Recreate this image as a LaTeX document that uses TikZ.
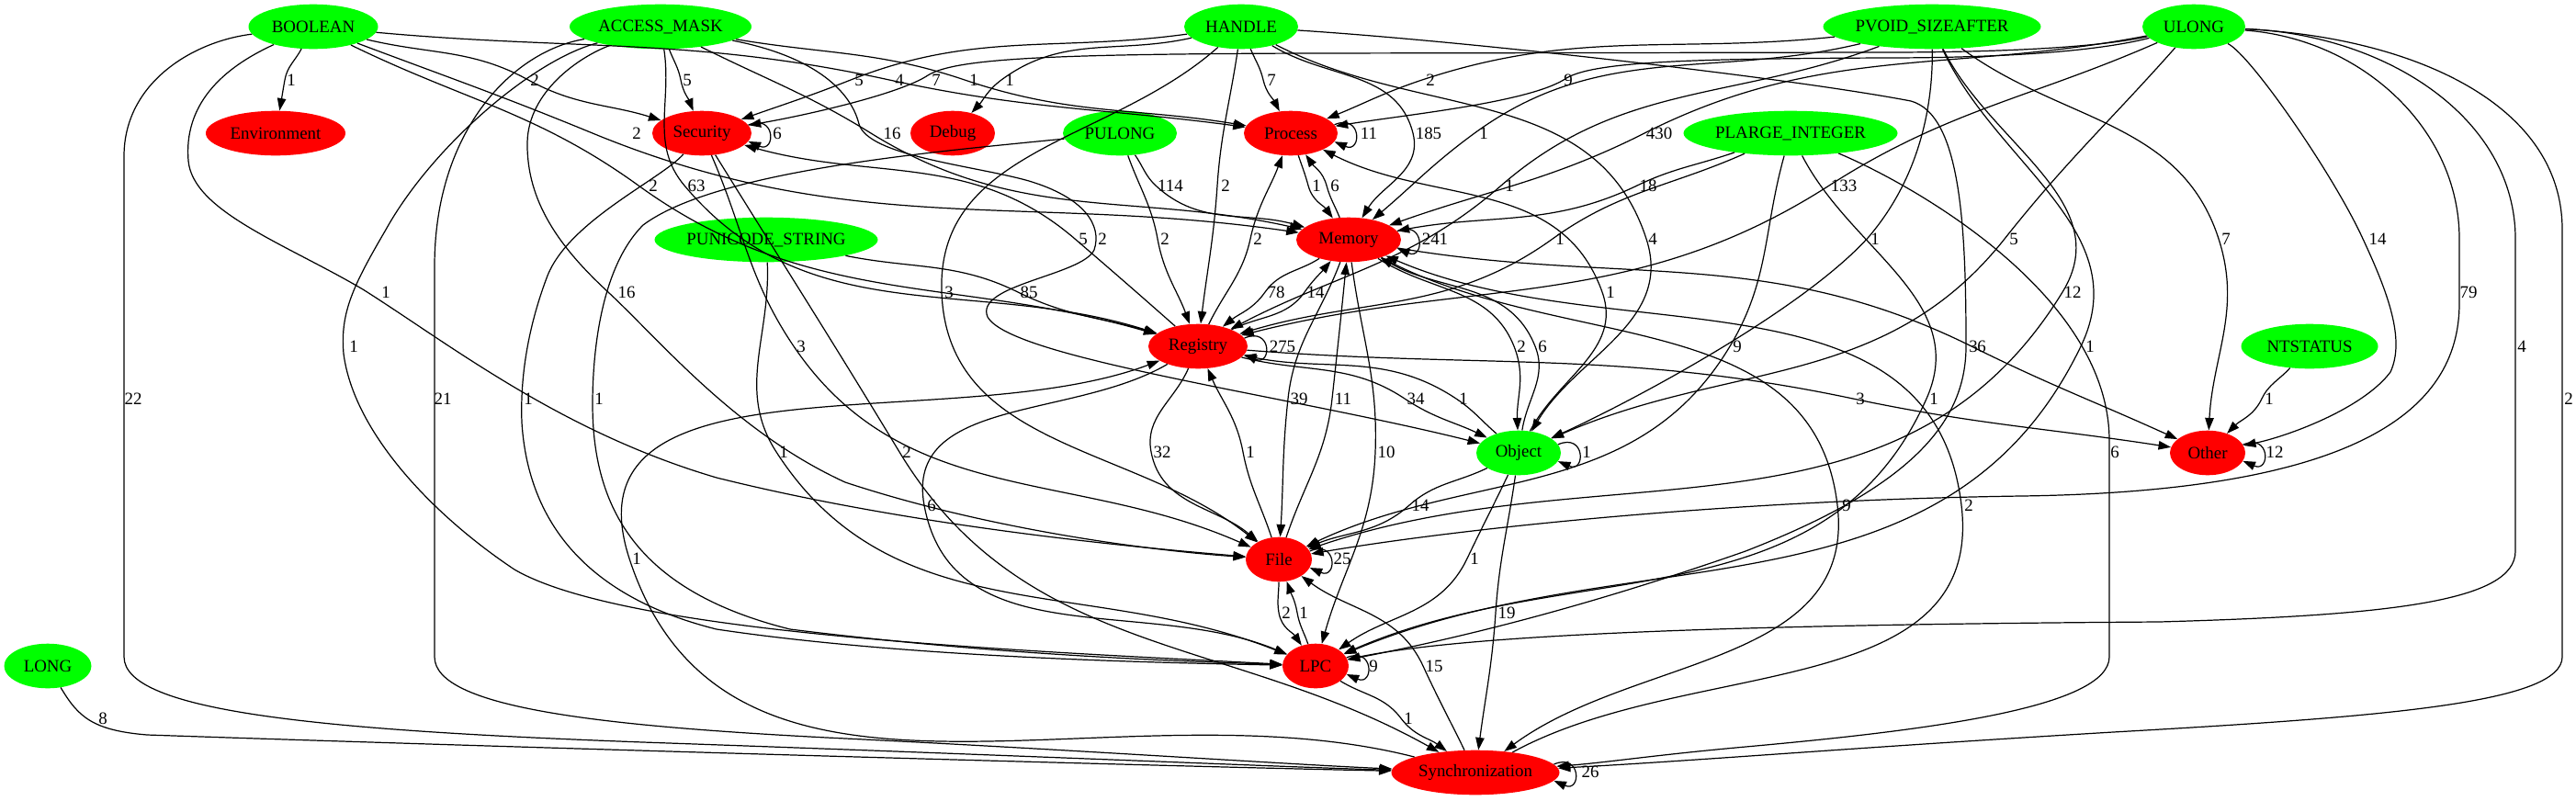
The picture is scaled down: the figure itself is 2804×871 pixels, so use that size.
\documentclass[tikz,border=0pt]{standalone}
\usepackage{fontspec}
\setmainfont{Liberation Serif}
\usetikzlibrary{shapes.geometric,arrows.meta,calc}
\definecolor{gg}{RGB}{0,255,0}
\definecolor{rr}{RGB}{255,0,0}
\newcommand\nl[1]{\makebox[0pt]{#1}}
\tikzset{
 nd/.style={ellipse, inner sep=0pt, minimum height=36pt, font=\fontsize{14}{16}\selectfont},
 gn/.style={nd, fill=gg, minimum width=#1*0.7407pt},
 rn/.style={nd, fill=rr, minimum width=#1*0.7407pt},
 edge/.style={draw=black, line width=0.9pt, -{Triangle[length=10pt,width=7pt]}},
 lab/.style={font=\fontsize{14}{16}\selectfont, inner sep=0pt},
}
% src, tgt, waypoint x, waypoint y
\newcommand\gedge[4]{%
 \draw[edge] let \p1=($(#3,#4)-(#1)$), \p2=($(#3,#4)-(#2)$), \p3=($(#2)-(#1)$),
   \n1={scalar(atan2(\y1,\x1))}, \n2={scalar(atan2(\y2,\x2))},
   \n3={scalar(atan2(2*\y3,\x3))}, \n4={scalar(atan2(2*\y3,\x3)+180)}
   in (#1) to[out=\n1,in=\n4] (#3,#4) to[out=\n3,in=\n2] (#2);}
% node, border angle
\newcommand\gloop[2]{\draw[edge] (#1.#2) .. controls +(30,-13) and +(30,13) .. (#1.-#2);}
\newcommand\glab[3]{\node[lab] (t#1x#2) at (#1,#2) {#3};}
\begin{document}
\begin{tikzpicture}[x=0.7407pt,y=-0.7407pt]
\useasboundingbox (0,0) rectangle (2804,871);
% nodes
\node[gn=141] (B) at (341,29) {\nl{BOOLEAN}};
\node[gn=198] (AM) at (719,29) {\nl{ACCESS\_MASK}};
\node[gn=124] (H) at (1351,29) {\nl{HANDLE}};
\node[gn=237] (PV) at (2103,29) {\nl{PVOID\_SIZEAFTER}};
\node[gn=112] (U) at (2388,29) {\nl{ULONG}};
\node[rn=152] (Env) at (300,145) {\nl{Environment}};
\node[rn=108] (Sec) at (764,145) {\nl{Security}};
\node[rn=92] (Dbg) at (1037,145) {\nl{Debug}};
\node[gn=124] (PU) at (1219,145) {\nl{PULONG}};
\node[rn=102] (Proc) at (1405,145) {\nl{Process}};
\node[gn=233] (PL) at (1949,145) {\nl{PLARGE\_INTEGER}};
\node[gn=243] (PS) at (834,261) {\nl{PUNICODE\_STRING}};
\node[rn=114] (Mem) at (1468,261) {\nl{Memory}};
\node[rn=108] (Reg) at (1304,377) {\nl{Registry}};
\node[gn=149] (NT) at (2514,377) {\nl{NTSTATUS}};
\node[gn=92] (Obj) at (1653,493) {\nl{Object}};
\node[rn=82] (Oth) at (2403,493) {\nl{Other}};
\node[rn=72] (F) at (1392,609) {\nl{File}};
\node[gn=95] (L) at (52,725) {\nl{LONG}};
\node[rn=72] (LPC) at (1432,725) {\nl{LPC}};
\node[rn=183] (Syn) at (1606,841) {\nl{Synchronization}};
% row 87
\gedge{B}{Env}{310}{87}
\gedge{B}{Sec}{575}{87}
\gedge{AM}{Sec}{741}{87}
\gedge{H}{Sec}{926}{87}
\gedge{B}{Proc}{968}{87}
\draw[edge] (U) .. controls (2290,50) and (2200,57) .. (2050,57) -- (1420,58) .. controls (1150,59) and (1040,63) .. (1010,82) .. controls (980,102) and (880,125) .. (Sec);
\gedge{AM}{Proc}{1050}{87}
\gedge{H}{Dbg}{1090}{87}
\gedge{H}{Proc}{1375}{87}
\gedge{PV}{Proc}{1548}{87}
\draw[edge] (U) .. controls (2290,54) and (2200,63) .. (2050,63) .. controls (1850,64) and (1730,66) .. (1702,87) .. controls (1660,112) and (1530,125) .. (Proc);
% row 145
\gloop{Sec}{10}
\gloop{Proc}{11}
\gedge{B}{Mem}{645}{145}
\gedge{AM}{Mem}{948}{145}
\gedge{H}{Mem}{1538}{145}
\gedge{PV}{Mem}{1605}{145}
\gedge{U}{Mem}{1790}{145}
% row 202
\gedge{B}{Reg}{695}{202}
\gedge{AM}{Reg}{745}{202}
\gedge{PU}{Mem}{1258}{202}
\gedge{H}{Reg}{1325}{202}
\gedge{Proc}{Mem}{1424}{202}
\gedge{Mem}{Proc}{1444}{202}
\gedge{PV}{Reg}{1634}{202}
\gedge{PL}{Mem}{1782}{202}
\gedge{U}{Reg}{1991}{202}
% row 260
\gedge{Reg}{Sec}{1170}{260}
\draw[edge] (AM) .. controls (880,60) and (925,95) .. (935,135) .. controls (945,170) and (1060,180) .. (1120,197) .. controls (1180,215) and (1200,245) .. (1191,272) .. controls (1178,300) and (1060,310) .. (1075,345) .. controls (1100,390) and (1400,430) .. (Obj);
\gedge{PU}{Reg}{1260}{260}
\gedge{Reg}{Proc}{1361}{260}
\gloop{Mem}{10}
\gedge{PL}{Reg}{1690}{260}
\gedge{H}{Obj}{1792}{260}
\draw[edge] (PV) .. controls (2104,110) and (2092,190) .. (2034,258) .. controls (1960,340) and (1770,440) .. (Obj);
\gedge{U}{Obj}{2182}{260}
\gedge{PV}{Oth}{2415}{260}
\draw[edge] (U) .. controls (2450,60) and (2540,190) .. (2572,260) .. controls (2600,320) and (2618,370) .. (2602,405) .. controls (2572,445) and (2490,475) .. (Oth);
% row 318
\draw[edge] (B) .. controls (240,75) and (200,115) .. (205,175) .. controls (210,230) and (310,265) .. (395,315) .. controls (490,375) and (610,470) .. (780,520) .. controls (1000,575) and (1250,597) .. (F);
\draw[edge] (AM) .. controls (630,62) and (575,100) .. (574,155) .. controls (573,220) and (610,270) .. (662,318) .. controls (720,372) and (800,470) .. (920,525) .. controls (1080,578) and (1260,600) .. (F);
\gedge{H}{F}{1025}{318}
\gedge{PS}{Reg}{1108}{318}
\gedge{Mem}{Reg}{1377}{318}
\gedge{Reg}{Mem}{1420}{318}
\gedge{Obj}{Proc}{1744}{318}
\gedge{PV}{F}{2245}{318}
\draw[edge] (U) .. controls (2570,42) and (2677,140) .. (2677,260) -- (2677,330) .. controls (2677,450) and (2560,535) .. (2200,540) .. controls (1850,545) and (1560,580) .. (F);
% row 377
\draw[edge] (AM) .. controls (580,65) and (470,160) .. (420,250) .. controls (385,310) and (370,340) .. (374,385) .. controls (385,470) and (470,560) .. (560,620) .. controls (680,690) and (1100,708) .. (LPC);
\gedge{Sec}{F}{864}{377}
\gloop{Reg}{10}
\gedge{Mem}{Obj}{1648}{377}
\gedge{Obj}{Mem}{1671}{377}
\gedge{PL}{F}{1883}{377}
\draw[edge] (H) .. controls (1600,45) and (1950,85) .. (2080,110) .. controls (2135,125) and (2140,250) .. (2140,377) .. controls (2140,460) and (2080,530) .. (1900,600) .. controls (1700,670) and (1560,700) .. (LPC);
\gedge{Mem}{Oth}{2146}{377}
\gedge{PV}{LPC}{2265}{377}
\draw[edge] (U) .. controls (2600,38) and (2738,130) .. (2738,260) -- (2738,600) .. controls (2738,655) and (2600,670) .. (2350,677) .. controls (1900,680) and (1600,690) .. (LPC);
% row 434
\draw[edge] (B) .. controls (210,45) and (135,90) .. (135,170) -- (135,715) .. controls (135,775) and (350,795) .. (700,808) .. controls (1100,822) and (1400,835) .. (Syn);
\draw[edge] (AM) .. controls (560,55) and (473,140) .. (473,290) -- (473,715) .. controls (473,770) and (650,790) .. (900,803) .. controls (1150,815) and (1400,832) .. (Syn);
\draw[edge] (Sec) .. controls (720,195) and (620,240) .. (596,300) .. controls (575,355) and (566,410) .. (568,460) .. controls (575,570) and (640,650) .. (780,685) .. controls (1000,718) and (1300,722) .. (LPC);
\draw[edge] (PU) .. controls (1020,165) and (780,185) .. (700,245) .. controls (655,290) and (645,380) .. (645,440) .. controls (645,560) and (700,645) .. (860,685) .. controls (1100,715) and (1300,720) .. (LPC);
\gedge{Mem}{F}{1402}{434}
\gedge{F}{Mem}{1450}{434}
\gedge{Reg}{Obj}{1529}{434}
\gedge{Obj}{Reg}{1585}{434}
\gedge{Reg}{Oth}{2017}{434}
\gedge{PL}{LPC}{2097}{434}
\gedge{NT}{Oth}{2462}{434}
\draw[edge] (U) .. controls (2620,40) and (2789,110) .. (2789,250) -- (2789,715) .. controls (2789,765) and (2600,780) .. (2300,797) .. controls (2000,815) and (1850,828) .. (Syn);
% row 492
\gedge{PS}{LPC}{845}{492}
\gedge{Sec}{Syn}{979}{492}
\gedge{Reg}{F}{1253}{492}
\gedge{F}{Reg}{1353}{492}
\gedge{Mem}{LPC}{1497}{492}
\gloop{Obj}{12}
\draw[edge] (PL) .. controls (2080,200) and (2296,320) .. (2296,480) -- (2296,715) .. controls (2296,770) and (2100,795) .. (1900,813) .. controls (1800,822) and (1750,830) .. (Syn);
\gloop{Oth}{13}
% row 550
\gedge{Reg}{LPC}{1006}{550}
\gedge{Obj}{F}{1534}{550}
\gedge{Mem}{Syn}{2000}{550}
\gedge{Syn}{Mem}{2135}{550}
% row 608
\gedge{Syn}{Reg}{685}{608}
\gloop{F}{15}
\gedge{Obj}{LPC}{1597}{608}
% row 667
\gedge{F}{LPC}{1392}{667}
\gedge{LPC}{F}{1412}{667}
\gedge{Obj}{Syn}{1628}{667}
% row 725
\gloop{LPC}{15}
\gedge{Syn}{F}{1549}{725}
% row 782
\draw[edge] (L) .. controls (85,780) and (100,795) .. (160,800) .. controls (600,815) and (1300,835) .. (Syn);
\gedge{LPC}{Syn}{1525}{782}
\gloop{Syn}{6}
% labels
\glab{317}{87}{1}\glab{582}{87}{2}\glab{748}{87}{5}\glab{935}{87}{5}\glab{979}{87}{4}
\glab{1019}{87}{7}\glab{1060}{87}{1}\glab{1099}{87}{1}\glab{1384}{87}{7}\glab{1557}{87}{2}\glab{1707}{87}{9}
\glab{846}{145}{6}\glab{971}{145}{16}\glab{1490}{145}{11}\glab{1555}{145}{185}\glab{1615}{145}{1}
\glab{1806}{145}{430}\glab{693}{145}{2}
\glab{711}{202}{2}\glab{758}{202}{63}\glab{1274}{202}{114}\glab{1334}{202}{2}\glab{1433}{202}{1}
\glab{1453}{202}{6}\glab{1643}{202}{1}\glab{1794}{202}{18}\glab{2007}{202}{133}
\glab{1179}{260}{5}\glab{1200}{260}{2}\glab{1268}{260}{2}\glab{1369}{260}{2}\glab{1562}{260}{241}
\glab{1698}{260}{1}\glab{1799}{260}{4}\glab{2041}{260}{1}\glab{2192}{260}{5}\glab{2423}{260}{7}\glab{2588}{260}{14}
\glab{420}{318}{1}\glab{682}{318}{16}\glab{1033}{318}{3}\glab{1120}{318}{85}\glab{1389}{318}{78}
\glab{1432}{318}{14}\glab{1753}{318}{1}\glab{2256}{318}{12}\glab{2687}{318}{79}
\glab{385}{377}{1}\glab{872}{377}{3}\glab{1396}{377}{275}\glab{1656}{377}{2}\glab{1679}{377}{6}
\glab{1891}{377}{9}\glab{2148}{377}{3}\glab{2157}{377}{6}\glab{2275}{377}{1}\glab{2745}{377}{4}
\glab{145}{434}{22}\glab{482}{434}{21}\glab{575}{434}{1}\glab{652}{434}{1}\glab{1414}{434}{39}
\glab{1462}{434}{11}\glab{1541}{434}{34}\glab{1593}{434}{1}\glab{2025}{434}{3}\glab{2105}{434}{1}
\glab{2470}{434}{1}\glab{2796}{434}{2}
\glab{853}{492}{1}\glab{987}{492}{2}\glab{1265}{492}{32}\glab{1361}{492}{1}\glab{1509}{492}{10}
\glab{1727}{492}{1}\glab{2302}{492}{6}\glab{2476}{492}{12}
\glab{1014}{550}{6}\glab{1546}{550}{14}\glab{2010}{550}{9}\glab{2143}{550}{2}
\glab{693}{608}{1}\glab{1461}{608}{25}\glab{1605}{608}{1}
\glab{1400}{667}{2}\glab{1419}{667}{1}\glab{1640}{667}{19}
\glab{1495}{725}{9}\glab{1561}{725}{15}
\glab{112}{782}{8}\glab{1533}{782}{1}
\glab{1731}{840}{26}
\end{tikzpicture}
\end{document}
